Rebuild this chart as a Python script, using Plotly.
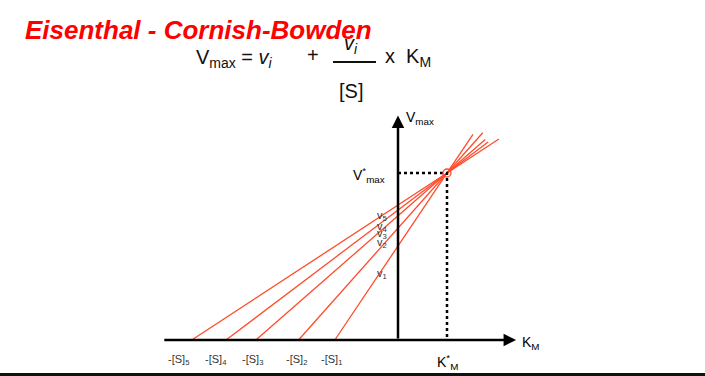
import plotly.graph_objects as go

# ---- data (units: K*_M = 1, V*_max = 1) ----
labels_v = ["v<sub>1</sub>", "v<sub>2</sub>", "v<sub>3</sub>", "v<sub>4</sub>", "v<sub>5</sub>"]
labels_s = ["-[S]<sub>1</sub>", "-[S]<sub>2</sub>", "-[S]<sub>3</sub>", "-[S]<sub>4</sub>", "-[S]<sub>5</sub>"]
S_vals = [1.29, 2.03, 2.90, 3.51, 4.21]
v_vals = [0.563, 0.670, 0.744, 0.778, 0.808]
x_end = [1.53, 1.73, 1.78, 1.84, 2.06]
KM_star = 1.0
Vmax_star = 1.0

W, H = 705, 376
FONT = "Liberation Sans, Arial, sans-serif"
X0_PX, Y0_PX = 398, 340     # origin in figure pixels
SX, SY = 49.0, 167.0        # pixels per unit

fig = go.Figure()

for s, v, xe in zip(S_vals, v_vals, x_end):
    xs = [-s, xe]
    ys = [v * (1 + x / s) for x in xs]
    fig.add_trace(go.Scatter(x=xs, y=ys, mode="lines",
                             line=dict(color="#ff4b2b", width=1.3),
                             hoverinfo="skip", showlegend=False))

fig.add_trace(go.Scatter(x=[0, KM_star, KM_star], y=[Vmax_star, Vmax_star, 0], mode="lines",
                         line=dict(color="black", width=2.5, dash="dot"),
                         hoverinfo="skip", showlegend=False))
fig.add_trace(go.Scatter(x=[KM_star], y=[Vmax_star], mode="markers",
                         marker=dict(symbol="circle-open", size=8, color="#ff4b2b", line=dict(width=1.3)),
                         hoverinfo="skip", showlegend=False))

def px(x):
    return x / W

def py(y):
    return 1 - y / H

ann = []
def txt(t, x, y, size, color="black", xa="center", ya="middle", family=FONT):
    ann.append(dict(text=t, x=px(x), y=py(y), xref="paper", yref="paper",
                    xanchor=xa, yanchor=ya, showarrow=False,
                    font=dict(size=size, color=color, family=family)))

ann.append(dict(x=2.41, y=0, ax=-4.8, ay=0, xref="x", yref="y", axref="x", ayref="y",
                text="", showarrow=True, arrowhead=2, arrowsize=1, arrowwidth=2.5, arrowcolor="black"))
ann.append(dict(x=0, y=1.345, ax=0, ay=0, xref="x", yref="y", axref="x", ayref="y",
                text="", showarrow=True, arrowhead=2, arrowsize=1, arrowwidth=2.5, arrowcolor="black"))

txt("<b><i>Eisenthal - Cornish-Bowden</i></b>", 23, 30, 26, color="#ff0000", xa="left")
txt("V<sub>max</sub> = <i>v<sub>i</sub></i>", 194, 58, 20, color="#111", xa="left")
txt("+", 313, 55, 20, color="#111")
txt("<i>v<sub>i</sub></i>", 351, 44, 20, color="#111")
txt("[S]", 351, 91, 20, color="#111")
txt("x  K<sub>M</sub>", 383, 57, 20, color="#111", xa="left")

txt("V<sub>max</sub>", 404, 118, 14, xa="left")
txt("K<sub>M</sub>", 520, 343, 14, xa="left")
txt("V<sup>*</sup><sub>max</sub>", 387, 175, 14, xa="right")
txt("K<sup>*</sup><sub>M</sub>", 447, 362, 14)

s_px = [331, 296, 252, 216, 179]
for lab, x in zip(labels_s, s_px):
    txt(lab, x, 360, 11, color="#333")
v_py = [274, 243, 234, 227, 216]
for lab, y in zip(labels_v, v_py):
    txt(lab, 382, y, 11, color="#333")

shapes = [
    dict(type="line", xref="paper", yref="paper", x0=px(333), x1=px(376), y0=py(62), y1=py(62),
         line=dict(color="#111", width=2)),
    dict(type="line", xref="paper", yref="paper", x0=0, x1=1, y0=py(374.5), y1=py(374.5),
         line=dict(color="#111", width=3)),
]

fig.update_layout(
    width=W, height=H, margin=dict(l=0, r=0, t=0, b=0),
    paper_bgcolor="white", plot_bgcolor="white",
    xaxis=dict(range=[-X0_PX / SX, (W - X0_PX) / SX], visible=False, fixedrange=True),
    yaxis=dict(range=[-(H - Y0_PX) / SY, Y0_PX / SY], visible=False, fixedrange=True),
    annotations=ann, shapes=shapes, showlegend=False,
)

fig.write_html("out.html", config={"displayModeBar": False},
               post_script="document.body.style.margin='0';document.body.style.padding='0';"
                           "document.body.style.overflow='hidden';")
